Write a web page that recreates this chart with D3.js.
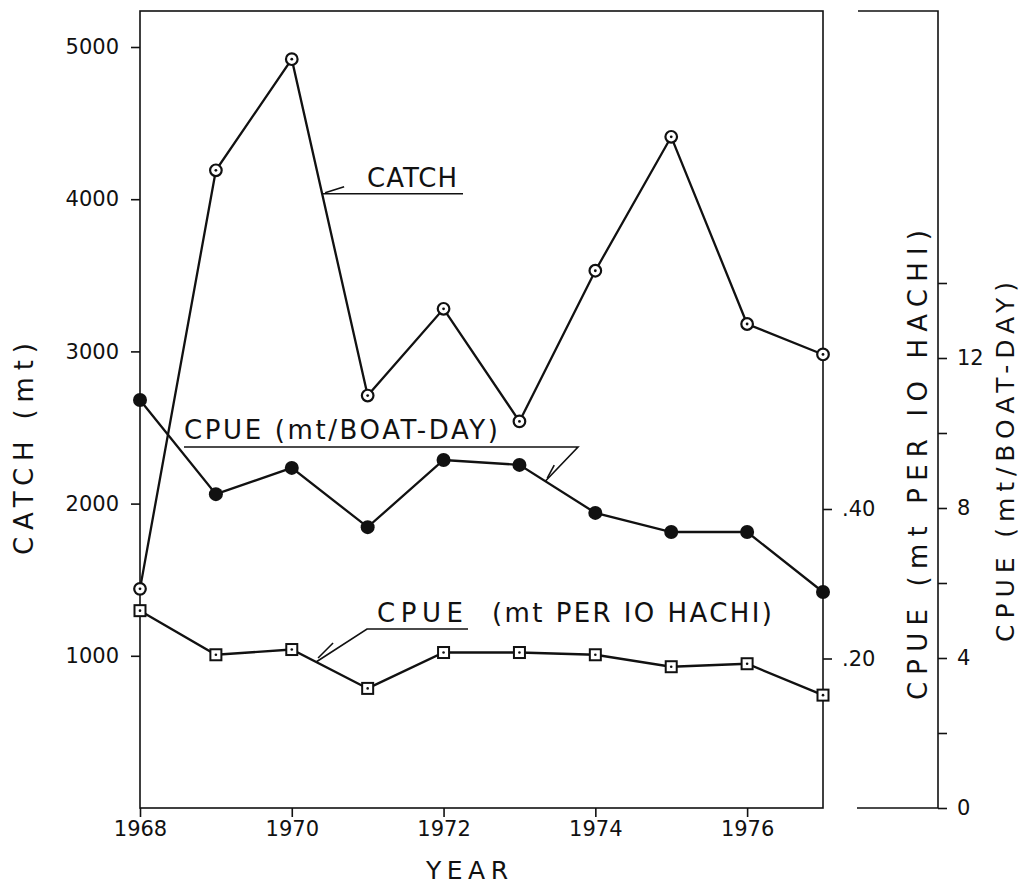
<!DOCTYPE html>
<html>
<head>
<meta charset="utf-8">
<style>
  body { margin: 0; background: #fff; }
  text { font-family: "DejaVu Sans", sans-serif; fill: #111; }
</style>
<title>Catch and CPUE</title>
</head>
<body>
<script src="https://cdn.jsdelivr.net/npm/d3@7"></script>
<script>

// Data
var years       = [1968, 1969, 1970, 1971, 1972, 1973, 1974, 1975, 1976, 1977];
var catchMt     = [1440, 4190, 4920, 2710, 3280, 2540, 3530, 4410, 3180, 2980];
var cpueBoatDay = [10.88, 8.37, 9.07, 7.49, 9.28, 9.15, 7.87, 7.36, 7.36, 5.76];
var cpueHachi   = [0.264, 0.205, 0.212, 0.160, 0.208, 0.208, 0.205, 0.189, 0.193, 0.151];

var yearTicks     = [1968, 1970, 1972, 1974, 1976];
var catchTicks    = [1000, 2000, 3000, 4000, 5000];
var hachiTicks    = [0.20, 0.40];
var boatDayTicks  = [0, 2, 4, 6, 8, 10, 12, 14];
var boatDayLabels = [0, 4, 8, 12];

var W = 1021, H = 889;
var plot = {left: 140, right: 823, top: 11, bottom: 808};
var axis2X = 938;

var x = d3.scaleLinear().domain([1968, 1977]).range([plot.left, plot.right]);
var yCatch = d3.scaleLinear().domain([0, 5000]).range([plot.bottom, 47]);
var yHachi = d3.scaleLinear().domain([0, 0.40]).range([plot.bottom, 509]);
var yBoat  = d3.scaleLinear().domain([0, 12]).range([plot.bottom, 358]);

var svg = d3.select("body").append("svg")
    .attr("width", W)
    .attr("height", H);

var ink = "#111";

// frame of the plot
svg.append("rect")
    .attr("x", plot.left).attr("y", plot.top)
    .attr("width", plot.right - plot.left).attr("height", plot.bottom - plot.top)
    .attr("fill", "none").attr("stroke", ink).attr("stroke-width", 1.6);

// second right-hand axis frame bits
svg.append("path")
    .attr("d", `M858,${plot.top} H${axis2X} V${plot.bottom} H857`)
    .attr("fill", "none").attr("stroke", ink).attr("stroke-width", 1.6);

function styleAxis(g) {
    g.select(".domain").remove();
    g.selectAll("line").attr("stroke", ink).attr("stroke-width", 1.6);
    g.selectAll("text").attr("fill", ink).style("font-family", "DejaVu Sans, sans-serif");
}

// left axis - catch
svg.append("g")
    .attr("transform", `translate(${plot.left},0)`)
    .call(d3.axisLeft(yCatch).tickValues(catchTicks).tickSize(9).tickPadding(12).tickFormat(d3.format("d")))
    .call(styleAxis)
    .selectAll("text").style("font-size", "21px");

// bottom axis - years
svg.append("g")
    .attr("transform", `translate(0,${plot.bottom})`)
    .call(d3.axisBottom(x).tickValues(yearTicks).tickSize(9).tickPadding(4).tickFormat(d3.format("d")))
    .call(styleAxis)
    .selectAll("text").style("font-size", "21px");

// right axis 1 - CPUE per 10 hachi
svg.append("g")
    .attr("transform", `translate(${plot.right},0)`)
    .call(d3.axisRight(yHachi).tickValues(hachiTicks).tickSize(9).tickPadding(10)
        .tickFormat(d => d3.format(".2f")(d).replace(/^0/, "")))
    .call(styleAxis)
    .selectAll("text").style("font-size", "21px");

// right axis 2 - CPUE per boat-day
svg.append("g")
    .attr("transform", `translate(${axis2X},0)`)
    .call(d3.axisRight(yBoat).tickValues(boatDayTicks).tickSize(9).tickPadding(10)
        .tickFormat(d => boatDayLabels.indexOf(d) >= 0 ? d : ""))
    .call(styleAxis)
    .selectAll("text").style("font-size", "21px");

// axis titles
svg.append("text")
    .attr("transform", `translate(33,449) rotate(-90)`)
    .attr("text-anchor", "middle")
    .style("font-size", "26px")
    .attr("textLength", 212).attr("lengthAdjust", "spacing")
    .text("CATCH  (mt)");

svg.append("text")
    .attr("x", 426).attr("y", 879)
    .style("font-size", "25px")
    .attr("textLength", 82).attr("lengthAdjust", "spacing")
    .text("YEAR");

svg.append("text")
    .attr("transform", `translate(927,465) rotate(-90)`)
    .attr("text-anchor", "middle")
    .style("font-size", "26px")
    .attr("textLength", 470).attr("lengthAdjust", "spacing")
    .text("CPUE  (mt   PER  IO  HACHI)");

svg.append("text")
    .attr("transform", `translate(1014,462) rotate(-90)`)
    .attr("text-anchor", "middle")
    .style("font-size", "25px")
    .attr("textLength", 360).attr("lengthAdjust", "spacing")
    .text("CPUE  (mt/BOAT-DAY)");

// series lines
var rows = years.map((yr, i) => ({year: yr, c: catchMt[i], b: cpueBoatDay[i], h: cpueHachi[i]}));

function drawLine(acc, yScale) {
    svg.append("path")
        .datum(rows)
        .attr("fill", "none")
        .attr("stroke", ink)
        .attr("stroke-width", 2.3)
        .attr("d", d3.line().x(d => x(d.year)).y(d => yScale(acc(d))));
}
drawLine(d => d.c, yCatch);
drawLine(d => d.b, yBoat);
drawLine(d => d.h, yHachi);

// catch markers: open circle with center dot
var cm = svg.selectAll(".catch").data(rows).enter().append("g")
    .attr("class", "catch")
    .attr("transform", d => `translate(${x(d.year)},${yCatch(d.c)})`);
cm.append("circle").attr("r", 5.8).attr("fill", "#fff").attr("stroke", ink).attr("stroke-width", 2.2);
cm.append("circle").attr("r", 1.4).attr("fill", ink);

// boat-day markers: filled circle
svg.selectAll(".boat").data(rows).enter().append("circle")
    .attr("class", "boat")
    .attr("cx", d => x(d.year)).attr("cy", d => yBoat(d.b))
    .attr("r", 7).attr("fill", ink);

// hachi markers: open square with center dot
var hm = svg.selectAll(".hachi").data(rows).enter().append("g")
    .attr("class", "hachi")
    .attr("transform", d => `translate(${x(d.year)},${yHachi(d.h)})`);
hm.append("rect").attr("x", -5.5).attr("y", -5.5).attr("width", 11).attr("height", 11)
    .attr("fill", "#fff").attr("stroke", ink).attr("stroke-width", 2);
hm.append("circle").attr("r", 1.3).attr("fill", ink);

// ---- series annotations ----
function leader(d) {
    svg.append("path").attr("d", d).attr("fill", "none")
        .attr("stroke", ink).attr("stroke-width", 1.6);
}
// point on a series line at a fractional year
function onLine(t, values, yScale) {
    var i = Math.floor(t - years[0]), f = t - years[0] - i;
    return [x(t), yScale(values[i] + f * (values[i + 1] - values[i]))];
}

// CATCH
svg.append("text").attr("x", 367).attr("y", 187)
    .style("font-size", "26px")
    .attr("textLength", 90).attr("lengthAdjust", "spacing")
    .text("CATCH");
var pc = onLine(1970.4, catchMt, yCatch);
leader(`M${pc[0]},${pc[1]} H463`);
leader(`M${pc[0] + 3},${pc[1] - 1} L${pc[0] + 22},${pc[1] - 7}`);

// CPUE (mt/BOAT-DAY)
svg.append("text").attr("x", 184).attr("y", 439)
    .style("font-size", "26px")
    .attr("textLength", 314).attr("lengthAdjust", "spacing")
    .text("CPUE (mt/BOAT-DAY)");
var pb = onLine(1973.34, cpueBoatDay, yBoat);
leader(`M184,447 H578 L${pb[0]},${pb[1]}`);
leader(`M${pb[0] + 2},${pb[1] - 3} L${pb[0] + 9},${pb[1] - 16}`);

// CPUE (mt PER 10 HACHI)
svg.append("text").attr("x", 377).attr("y", 622)
    .style("font-size", "26px")
    .attr("textLength", 86).attr("lengthAdjust", "spacing")
    .text("CPUE");
svg.append("text").attr("x", 492).attr("y", 622)
    .style("font-size", "26px")
    .attr("textLength", 280).attr("lengthAdjust", "spacing")
    .text("(mt PER IO HACHI)");
var ph = onLine(1970.32, cpueHachi, yHachi);
leader(`M468,629 H367 L${ph[0]},${ph[1]}`);
leader(`M${ph[0] + 2},${ph[1] - 4} L${ph[0] + 17},${ph[1] - 19}`);

</script>
</body>
</html>
